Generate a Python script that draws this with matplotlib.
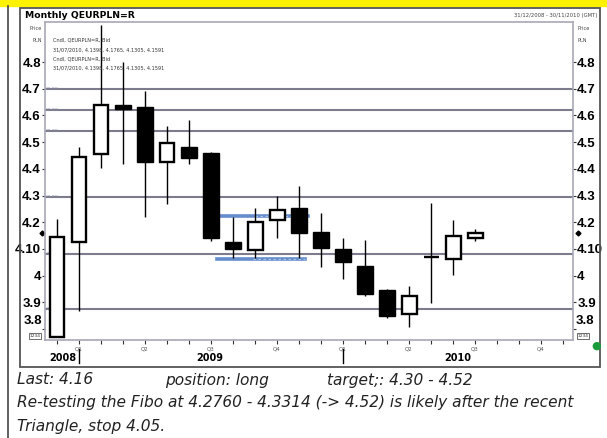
import numpy as np
import matplotlib
matplotlib.use("Agg")
import matplotlib.pyplot as plt
from matplotlib.patches import Rectangle
from matplotlib.lines import Line2D
import matplotlib.transforms as mtransforms

# monthly candles Dec 2008 .. Jul 2010
months = np.arange(20)
opens  = [3.770, 4.126, 4.455, 4.640, 4.631, 4.425, 4.480, 4.459, 4.126, 4.096,
          4.208, 4.253, 4.163, 4.100, 4.036, 3.946, 3.856, 4.068, 4.062, 4.1398]
highs  = [4.212, 4.482, 4.940, 4.800, 4.690, 4.560, 4.583, 4.462, 4.220, 4.253,
          4.298, 4.336, 4.234, 4.141, 4.133, 3.950, 3.961, 4.272, 4.208, 4.1765]
lows   = [3.770, 3.867, 4.403, 4.418, 4.220, 4.268, 4.420, 4.130, 4.066, 4.066,
          4.141, 4.066, 4.032, 3.987, 3.924, 3.840, 3.807, 3.897, 4.002, 4.1305]
closes = [4.145, 4.444, 4.639, 4.624, 4.425, 4.497, 4.440, 4.141, 4.100, 4.200,
          4.246, 4.160, 4.103, 4.051, 3.931, 3.849, 3.924, 4.070, 4.148, 4.1591]

fib_levels = [4.700, 4.622, 4.541, 4.293, 4.081, 3.874]
fib_labels = ["61.8%", "50.0%", "38.2%", "61.8%", "38.2%", "23.6%"]

# triangle lines: level, start, dash start, end (month index)
tri_top = (4.223, 7.4, 9.0, 11.4)
tri_bot = (4.062, 7.27, 8.9, 11.27)

yticks = [3.8, 3.9, 4.0, 4.1, 4.2, 4.3, 4.4, 4.5, 4.6, 4.7, 4.8]
ylabels = ["", "3.9", "4", "4.10", "4.2", "4.3", "4.4", "4.5", "4.6", "4.7", "4.8"]
quarter_idx = [1, 4, 7, 10, 13, 16, 19, 22]
quarter_lbl = ["Q1", "Q2", "Q3", "Q4", "Q1", "Q2", "Q3", "Q4"]
years = ["2008", "2009", "2010"]
year_x = [0.25, 6.95, 18.2]
year_sep = [1, 13]
last_val = 4.16

W, H = 607, 438
fig = plt.figure(figsize=(W / 100, H / 100), dpi=100)
fig.patch.set_facecolor("white")

def fx(px):
    return px / W

def fy(py):
    return 1 - py / H

# yellow strip, left rule and outer frame
fig.add_artist(Rectangle((0, fy(6)), 1, 6 / H, color="#fff200", transform=fig.transFigure))
fig.add_artist(Line2D([fx(8), fx(8)], [0, fy(6)], color="#444444", lw=1.2))
fig.add_artist(Rectangle((fx(20), fy(367)), fx(580), (367 - 8) / H, fill=False,
                         ec="#555555", lw=1.3, transform=fig.transFigure))

ax = fig.add_axes([fx(45), fy(340), fx(528), (340 - 22) / H])
ax.set_xlim(-0.545, 23.45)
ax.set_ylim(3.759, 4.95)
for s in ax.spines.values():
    s.set_color("#a8a8b8")
    s.set_linewidth(1.2)

# fibonacci lines
for lv, lb in zip(fib_levels, fib_labels):
    ax.axhline(lv, color="#7c7c8c", lw=1.5, zorder=1)
    ax.text(0.002, lv, lb, transform=ax.get_yaxis_transform(), fontsize=3.2,
            color="#8888a0", va="center", ha="left", zorder=2)

# triangle lines
for lv, x0, xd, x1 in [tri_top, tri_bot]:
    ax.plot([x0, x1], [lv, lv], color="#4a78c2", lw=2.6, alpha=0.85, zorder=3)
    ax.plot([xd, x1], [lv, lv], color="#a8c4e8", lw=0.9, ls=(0, (2, 2)), zorder=3)

# candles
o = np.array(opens); c = np.array(closes)
up = c >= o
ax.vlines(months, lows, highs, color="black", lw=1.0, zorder=4)
body_h = np.maximum(np.abs(c - o), 0.002)
ax.bar(months[up], body_h[up], bottom=np.minimum(o, c)[up], width=0.68,
       color="white", edgecolor="black", linewidth=1.7, zorder=5)
ax.bar(months[~up], body_h[~up], bottom=np.minimum(o, c)[~up], width=0.7,
       color="black", edgecolor="black", linewidth=1.0, zorder=5)

# y axis both sides
ax.set_yticks(yticks)
ax.set_yticklabels(ylabels, fontweight="bold", family="Liberation Sans")
ax.tick_params(axis="y", left=True, right=True, labelleft=True, labelright=True,
               length=2, width=0.8, pad=1, labelsize=9.5, color="#333333")
# 3.8 label sits a little higher, above the 1234 boxes
fig.text(fx(42), fy(321), "3.8", fontsize=9.5, fontweight="bold", family="Liberation Sans",
         ha="right", va="center")
fig.text(fx(576), fy(321), "3.8", fontsize=9.5, fontweight="bold", family="Liberation Sans",
         ha="left", va="center")

# x axis
ax.set_xticks(range(24))
ax.set_xticklabels([quarter_lbl[quarter_idx.index(i)] if i in quarter_idx else "" for i in range(24)])
ax.tick_params(axis="x", length=3, width=0.8, pad=2, labelsize=4, labelcolor="#555555", color="#333333")

xt = mtransforms.blended_transform_factory(ax.transData, fig.transFigure)
for yr, x in zip(years, year_x):
    ax.text(x, fy(358), yr, transform=xt, fontsize=7, fontweight="bold", ha="center", va="center")
for x in year_sep:
    ax.plot([x, x], [fy(349), fy(363)], transform=xt, color="black", lw=1, clip_on=False)

# last value markers
yt = mtransforms.blended_transform_factory(fig.transFigure, ax.transData)
ax.plot([fx(42), fx(578)], [last_val, last_val], transform=yt, ls="none", marker="D",
        ms=2.5, color="black", clip_on=False)

# header texts
fig.text(fx(25), fy(15), "Monthly QEURPLN=R", fontsize=6.7, fontweight="bold", va="center")
fig.text(fx(597), fy(15), "31/12/2008 - 30/11/2010 (GMT)", fontsize=3.8, ha="right",
         va="center", color="#444444")
for side_x, ha in [(fx(42), "right"), (fx(577), "left")]:
    fig.text(side_x, fy(29), "Price", fontsize=3.6, ha=ha, va="center", color="#444444")
    fig.text(side_x, fy(40), "PLN", fontsize=3.6, ha=ha, va="center", color="#444444")

legend_lines = ["Cndl, QEURPLN=R, Bid", "31/07/2010, 4.1398, 4.1765, 4.1305, 4.1591",
                "Cndl, QEURPLN=R, Bid", "31/07/2010, 4.1398, 4.1765, 4.1305, 4.1591"]
for i, ln in enumerate(legend_lines):
    fig.text(fx(53), fy(40 + i * 9.5), ln, fontsize=3.6, va="center", color="#333333")

for px in [35, 583]:
    fig.text(fx(px), fy(336), "1234", fontsize=3.2, ha="center", va="center", color="#333333",
             bbox=dict(boxstyle="square,pad=0.15", fc="white", ec="#555555", lw=0.6))
fig.text(fx(596), fy(346), "\u25cf", fontsize=8, color="#1c9c3c", ha="center", va="center")

# comment text
tf = dict(fontsize=11.1, style="italic", color="#222222", va="center", family="DejaVu Sans")
fig.text(fx(17), fy(380), "Last: 4.16", **tf)
fig.text(fx(165), fy(380), "position: long", **tf)
fig.text(fx(327), fy(380), "target;: 4.30 - 4.52", **tf)
fig.text(fx(17), fy(403), "Re-testing the Fibo at 4.2760 - 4.3314 (-> 4.52) is likely after the recent", **tf)
fig.text(fx(17), fy(426), "Triangle, stop 4.05.", **tf)

fig.savefig("out.png", dpi=100)
